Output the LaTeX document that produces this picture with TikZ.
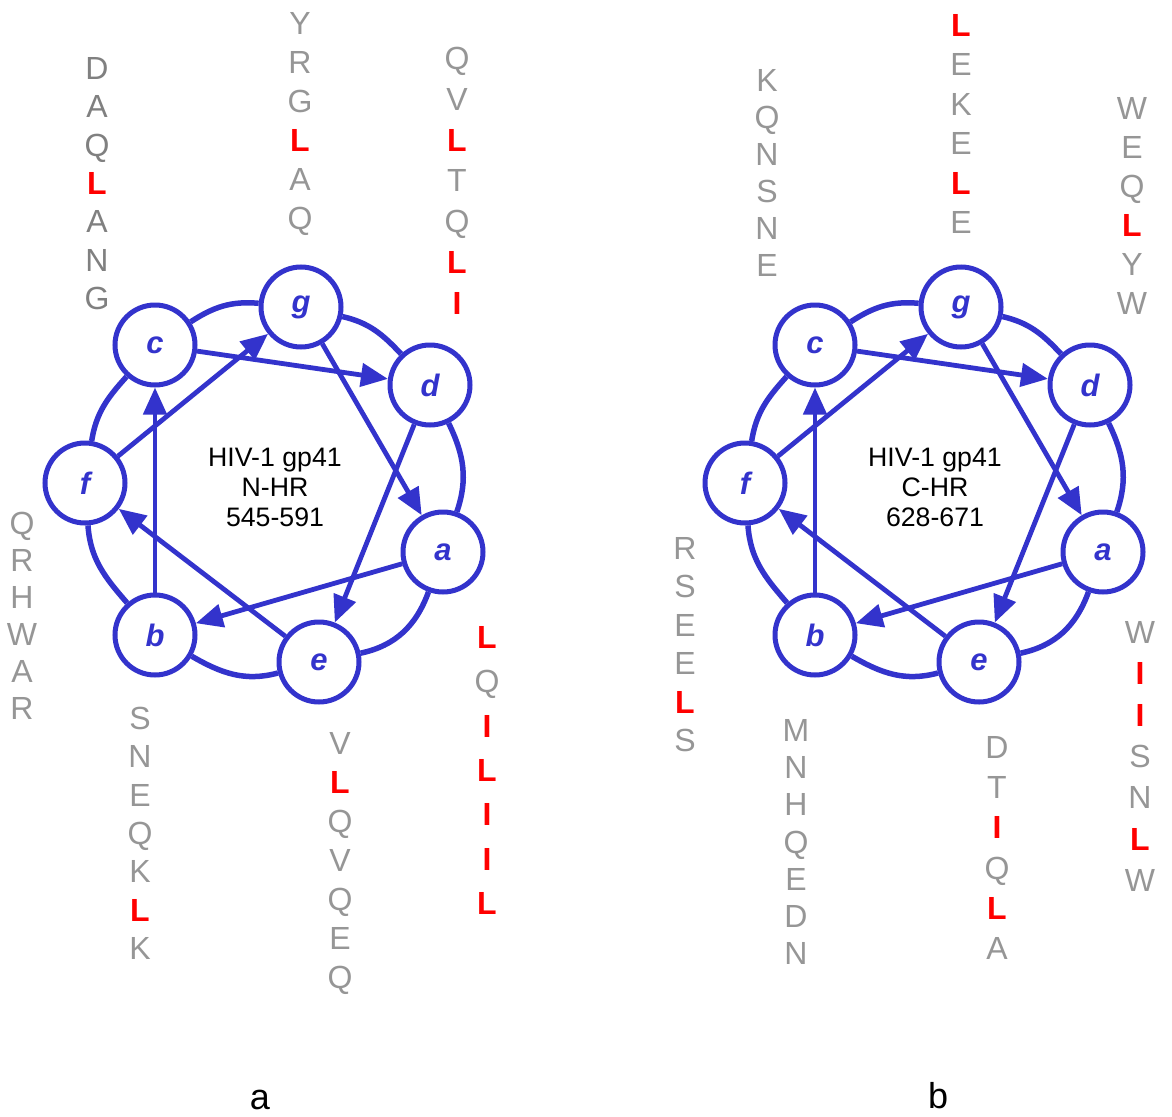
\documentclass[tikz,border=0pt]{standalone}
\usepackage{fontspec}
\setmainfont{Liberation Sans}
\usetikzlibrary{arrows.meta}
\definecolor{wblue}{RGB}{51,51,204}
\definecolor{resgray}{RGB}{150,150,150}
\definecolor{resdark}{RGB}{128,128,128}
\newcommand\RL{\textcolor{red}{\bfseries L}}
\newcommand\RI{\textcolor{red}{\bfseries I}}
\tikzset{
  res/.style={font=\fontsize{32}{32}\selectfont, inner sep=0pt, text height=23pt, text depth=0pt, anchor=center},
  wheelnode/.style={circle, draw=wblue, line width=5pt, fill=white, minimum size=80pt, inner sep=0pt,
    font=\fontsize{31}{31}\selectfont\bfseries\itshape, text=wblue},
  ring/.style={draw=wblue, line width=5.5pt},
  link/.style={draw=wblue, line width=4.8pt, -{Triangle[length=27pt,width=23pt]}},
  ctext/.style={font=\fontsize{26.7}{30}\selectfont, align=center, text=black},
  panel/.style={font=\fontsize{36}{36}\selectfont, text=black, inner sep=0pt}
}
\newcommand\rescol[6]{%
  \foreach \t [count=\i from 0] in {#6}
    \node[res, text=#2] (#1-\i) at (#3, {#4+\i*#5}) {\t};
}
\newcommand\helwheel[2]{%
  \foreach \n/\x/\y in {c/155/345, g/301/307, d/430/385, a/443/552, e/319/662, b/155/635, f/85/483}
    \node[wheelnode] (#1\n) at (\x,\y) {\n};
  \node[ctext] (#1t) at (275,487) {#2};
  % outer ring
  \draw[ring] (#1c) to[out=33,in=175] (#1g);
  \draw[ring] (#1g) to[out=-13,in=133] (#1d);
  \draw[ring] (#1d) to[out=-64,in=71] (#1a);
  \draw[ring] (#1a) to[out=250,in=12] (#1e);
  \draw[ring] (#1e) to[out=195,in=-30] (#1b);
  \draw[ring] (#1b) to[out=131,in=-86] (#1f);
  \draw[ring] (#1f) to[out=81,in=228] (#1c);
  % heptad path
  \draw[link] (#1a) -- (#1b);
  \draw[link] (#1b) -- (#1c);
  \draw[link] (#1c) -- (#1d);
  \draw[link] (#1d) -- (#1e);
  \draw[link] (#1e) -- (#1f);
  \draw[link] (#1f) -- (#1g);
  \draw[link] (#1g) -- (#1a);
}
\begin{document}
\begin{tikzpicture}[x=1pt,y=-1pt]
\useasboundingbox (0,0) rectangle (1172,1116);
\fill[white] (0,0) rectangle (1172,1116);
% left wheel
\helwheel{L}{HIV-1 gp41\\N-HR\\545-591}
\rescol{La}{resdark}{97}{68}{38.3}{D,A,Q,\RL,A,N,G}
\rescol{Lb}{resgray}{300}{23}{39}{Y,R,G,\RL,A,Q}
\rescol{Lc}{resgray}{457}{58}{40.8}{Q,V,\RL,T,Q,\RL,\RI}
\rescol{Ld}{resgray}{22}{523}{37}{Q,R,H,W,A,R}
\rescol{Le}{resgray}{140}{718}{38.3}{S,N,E,Q,K,\RL,K}
\rescol{Lf}{resgray}{340}{743}{39}{V,\RL,Q,V,Q,E,Q}
\rescol{Lg}{resgray}{487}{637}{44.3}{\RL,Q,\RI,\RL,\RI,\RI,\RL}
\node[panel] (pa) at (260,1100) {a};
% right wheel
\begin{scope}[xshift=660pt]
\helwheel{R}{HIV-1 gp41\\C-HR\\628-671}
\end{scope}
\rescol{Ra}{resgray}{767}{80}{37}{K,Q,N,S,N,E}
\rescol{Rb}{resgray}{961}{25}{39.4}{\RL,E,K,E,\RL,E}
\rescol{Rc}{resgray}{1132}{108}{39}{W,E,Q,\RL,Y,W}
\rescol{Rd}{resgray}{685}{548}{38.4}{R,S,E,E,\RL,S}
\rescol{Re}{resgray}{796}{730}{37.2}{M,N,H,Q,E,D,N}
\rescol{Rf}{resgray}{997}{747}{40.2}{D,T,\RI,Q,\RL,A}
\rescol{Rg}{resgray}{1140}{632}{41.3}{W,\RI,\RI,S,N,\RL,W}
\node[panel] (pb) at (938,1096) {b};
\end{tikzpicture}
\end{document}
